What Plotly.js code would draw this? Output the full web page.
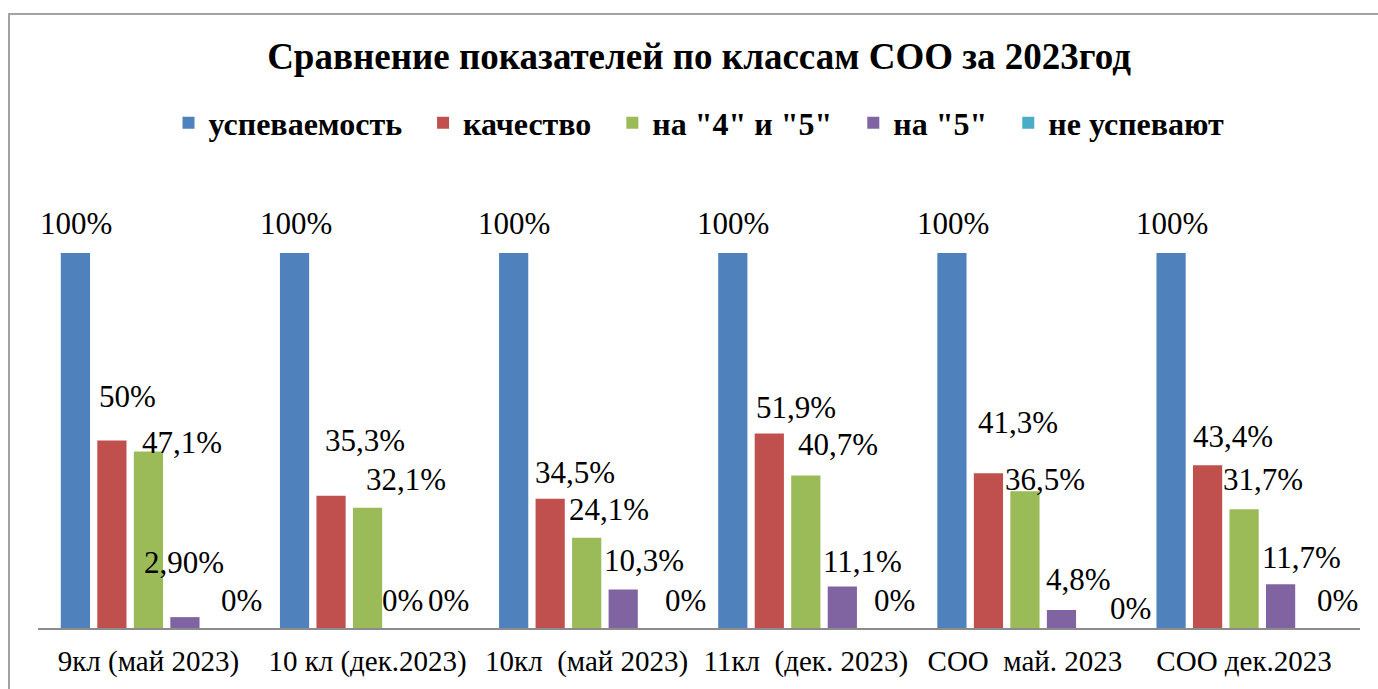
<!DOCTYPE html>
<html>
<head>
<meta charset="utf-8">
<script src="https://cdn.plot.ly/plotly-3.0.1.min.js"></script>
<style>
  html, body { margin: 0; padding: 0; background: #fff; }
  #wrap { position: relative; width: 1378px; height: 689px; overflow: hidden; }
  #frame { position: absolute; left: 8px; top: 13px; width: 1400px; height: 700px;
           border-left: 2px solid #a3a3a3; border-top: 2px solid #a3a3a3; }
  #chart { position: absolute; left: 0; top: 0; width: 1378px; height: 689px; }
</style>
</head>
<body>
<div id="wrap">
  <div id="frame"></div>
  <div id="chart"></div>
</div>
<script>
// ---- data ----
const categories = ["9кл (май 2023)", "10 кл (дек.2023)", "10кл  (май 2023)", "11кл  (дек. 2023)", "СОО  май. 2023", "СОО дек.2023"];
const seriesNames = ["успеваемость", "качество", "на \"4\" и \"5\"", "на \"5\"", "не успевают"];
const uspevaemost = [100, 100, 100, 100, 100, 100];
const kachestvo   = [50, 35.3, 34.5, 51.9, 41.3, 43.4];
const na4i5       = [47.1, 32.1, 24.1, 40.7, 36.5, 31.7];
const na5         = [2.9, 0, 10.3, 11.1, 4.8, 11.7];
const neUspevayut = [0, 0, 0, 0, 0, 0];
const labelsUspevaemost = ["100%", "100%", "100%", "100%", "100%", "100%"];
const labelsKachestvo   = ["50%", "35,3%", "34,5%", "51,9%", "41,3%", "43,4%"];
const labelsNa4i5       = ["47,1%", "32,1%", "24,1%", "40,7%", "36,5%", "31,7%"];
const labelsNa5         = ["2,90%", "0%", "10,3%", "11,1%", "4,8%", "11,7%"];
const labelsNeUsp       = ["0%", "0%", "0%", "0%", "0%", "0%"];

// ---- styles ----
const colors = ["#4F81BD", "#C0504D", "#9BBB59", "#8064A2", "#4BACC6"];
const serif = "Liberation Serif, Times New Roman, serif";
const W = 1378, H = 689;
const margin = {l: 38, r: 18, t: 253, b: 61};
const bargap = 0.167, bargroupgap = 0.2;
// manual label placement (px, relative to the top centre of each bar), as in the original
const labelDx = [
  [1, 2, 1, 1, 1, 1],
  [16, 34, 25, 27, 30, 26],
  [34, 38, 22, 32, 20, 19],
  [-1, -2, 21, 20, 17, 21],
  [20, 8, 25, 15, 32, 20]
];
const labelDy = [
  [30, 30, 30, 30, 30, 30],
  [44, 55, 26, 26, 51, 29],
  [9, 28, 28, 31, 12, 30],
  [55, 28, 29, 25, 31, 27],
  [28, 28, 28, 28, 20, 28]
];

const values = [uspevaemost, kachestvo, na4i5, na5, neUspevayut];
const labels = [labelsUspevaemost, labelsKachestvo, labelsNa4i5, labelsNa5, labelsNeUsp];

// legend entries padded with trailing no-break spaces to widen spacing between entries
const pad = "\u00a0\u00a0";
const traces = values.map((v, i) => ({
  type: "bar",
  name: i < values.length - 1 ? seriesNames[i] + pad : seriesNames[i],
  x: categories,
  y: v,
  marker: {color: colors[i]},
  hoverinfo: "skip"
}));

const plotW = W - margin.l - margin.r;
const slot = plotW / categories.length * (1 - bargap) / values.length;
const annotations = [];
values.forEach((v, i) => {
  const off = (i - (values.length - 1) / 2) * slot;
  v.forEach((val, j) => {
    annotations.push({
      x: categories[j], y: val, xref: "x", yref: "y",
      text: labels[i][j], showarrow: false,
      xshift: off + labelDx[i][j], yshift: labelDy[i][j],
      xanchor: "center", yanchor: "middle",
      font: {family: serif, size: 31, color: "#000"}
    });
  });
});

const layout = {
  width: W, height: H,
  margin: margin,
  paper_bgcolor: "rgba(0,0,0,0)",
  plot_bgcolor: "rgba(0,0,0,0)",
  barmode: "group",
  bargap: bargap,
  bargroupgap: bargroupgap,
  font: {family: serif, color: "#000"},
  title: {
    text: "<b>Сравнение показателей по классам СОО за 2023год</b>",
    font: {family: serif, size: 37, color: "#000"},
    x: 0.5, xref: "paper", xanchor: "center",
    y: 1 - 56 / H, yref: "container", yanchor: "middle"
  },
  showlegend: true,
  legend: {
    orientation: "h",
    x: 0.5, xanchor: "center", xref: "paper",
    y: 1 - 123 / H, yref: "container", yanchor: "middle",
    font: {family: serif, size: 32, color: "#000", weight: "bold"},
    itemclick: false, itemdoubleclick: false,
    traceorder: "normal"
  },
  xaxis: {
    type: "category",
    showline: true, linecolor: "#8c8c8c", linewidth: 2,
    ticks: "", showgrid: false, zeroline: false,
    tickfont: {family: serif, size: 29, color: "#000"},
    ticklabelstandoff: 6,
    fixedrange: true
  },
  yaxis: {
    range: [0, 100],
    showticklabels: false, showgrid: false, zeroline: false, showline: false,
    ticks: "", fixedrange: true
  },
  annotations: annotations
};

Plotly.newPlot("chart", traces, layout, {displayModeBar: false, staticPlot: true});
</script>
</body>
</html>
